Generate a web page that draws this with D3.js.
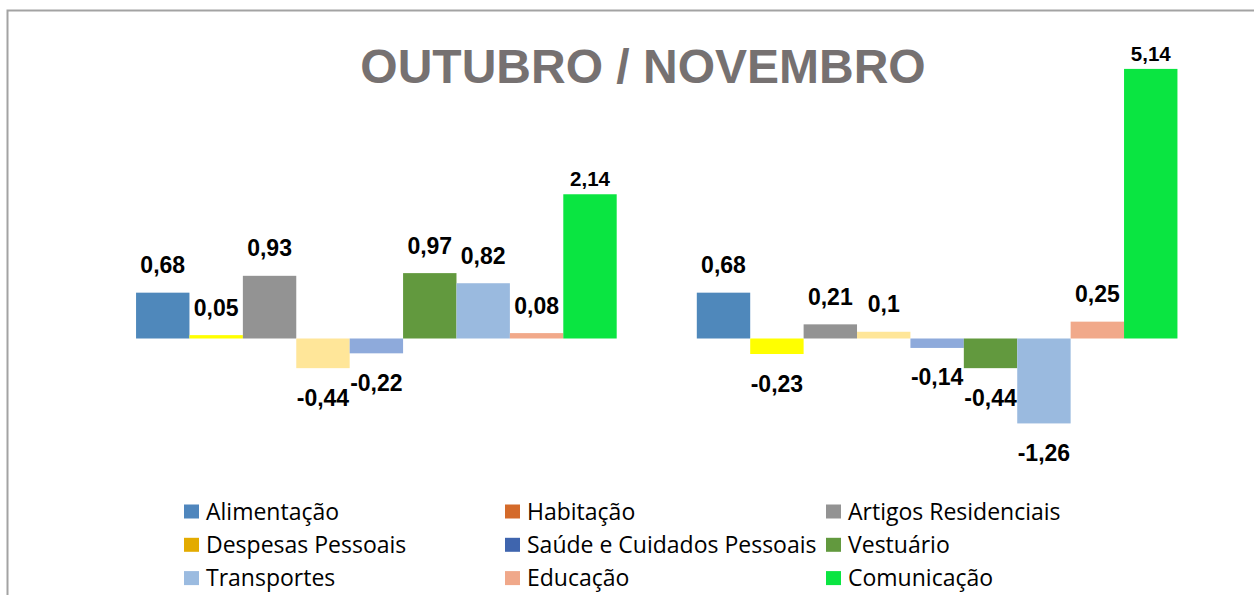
<!DOCTYPE html>
<html>
<head>
<meta charset="utf-8">
<script src="https://cdn.jsdelivr.net/npm/d3@7"></script>
<style>
  body { margin: 0; background: #fff; }
  svg { display: block; }
</style>
</head>
<body>
<script>
// dados do grafico
const groups = ["Outubro", "Novembro"];
const categories = [
  "Alimentação", "Habitação", "Artigos Residenciais",
  "Despesas Pessoais", "Saúde e Cuidados Pessoais", "Vestuário",
  "Transportes", "Educação", "Comunicação"
];
const outubro = [0.68, 0.05, 0.93, -0.44, -0.22, 0.97, 0.82, 0.08, 2.14];
const novembro = [0.68, -0.23, 0.21, 0.1, -0.14, -0.44, -1.26, 0.25, 5.14];

// cores das barras (diferem da legenda em alguns itens, como no original)
const barColors = ["#4f88bb", "#ffff00", "#939393", "#ffe699", "#8eaadb",
                   "#62993e", "#9abadf", "#f1a98a", "#0ae541"];
const legendColors = ["#4f86bd", "#d46a2a", "#939393", "#e3ab00", "#3f65ae",
                      "#62993e", "#9bbbe0", "#f0a88a", "#0ae541"];

var W = 1254, H = 595;

var svg = d3.select("body").append("svg")
  .attr("width", W).attr("height", H);

// moldura
svg.append("rect")
  .attr("x", 7.5).attr("y", 10.5)
  .attr("width", W + 20).attr("height", H + 20)
  .attr("fill", "none").attr("stroke", "#a3a3a3").attr("stroke-width", 2);

// titulo
svg.append("text")
  .attr("x", 643).attr("y", 83)
  .attr("text-anchor", "middle")
  .style("font-family", "'Liberation Sans', Arial, sans-serif")
  .style("font-weight", "bold").style("font-size", "48px")
  .attr("fill", "#767171")
  .text("OUTUBRO / NOVEMBRO");

// escalas
var x0 = d3.scaleBand().domain(groups).range([96, 1217.5])
  .paddingInner(1.5 / 10.5).paddingOuter(0.75 / 10.5);
var x1 = d3.scaleBand().domain(categories).range([0, x0.bandwidth()]);
var y = d3.scaleLinear().domain([-2, 4]).range([473.3, 68.9]).clamp(true);

var table = [outubro, novembro].map((vals, gi) =>
  vals.map((v, i) => ({ group: groups[gi], cat: categories[i], i: i, v: v })));

var fmt = v => String(v).replace(".", ",");

var g = svg.selectAll(".grupo").data(table).enter()
  .append("g").attr("class", "grupo")
  .attr("transform", (d, gi) => "translate(" + [x0(groups[gi]), 0] + ")");

g.selectAll("rect").data(d => d).enter().append("rect")
  .attr("x", d => x1(d.cat))
  .attr("width", x1.bandwidth())
  .attr("y", d => Math.min(y(d.v), y(0)))
  .attr("height", d => Math.abs(y(d.v) - y(0)))
  .attr("fill", d => barColors[d.i]);

g.selectAll("text").data(d => d).enter().append("text")
  .attr("x", d => x1(d.cat) + x1.bandwidth() / 2)
  .attr("y", d => {
    if (d.i === 8) return y(d.v) - 8;
    return d.v >= 0 ? y(d.v) - 19.5 : y(d.v) + 37.5;
  })
  .attr("text-anchor", "middle")
  .style("font-family", "'Liberation Sans', Arial, sans-serif")
  .style("font-weight", "bold")
  .style("font-size", d => d.i === 8 ? "20.5px" : "23px")
  .attr("fill", "#000")
  .text(d => fmt(d.v));

// legenda
var leg = svg.selectAll(".leg").data(categories).enter()
  .append("g").attr("class", "leg")
  .attr("transform", (d, i) => "translate(" + [184 + (i % 3) * 321, 511.5 + Math.floor(i / 3) * 33.3] + ")");

leg.append("rect")
  .attr("x", 0).attr("y", -7).attr("width", 15).attr("height", 14)
  .attr("fill", (d, i) => legendColors[i]);

leg.append("text")
  .attr("x", 22).attr("y", 8)
  .style("font-family", "'Open Sans', 'Noto Sans', sans-serif")
  .style("font-size", "23px")
  .attr("fill", "#000")
  .text(d => d);
</script>
</body>
</html>
